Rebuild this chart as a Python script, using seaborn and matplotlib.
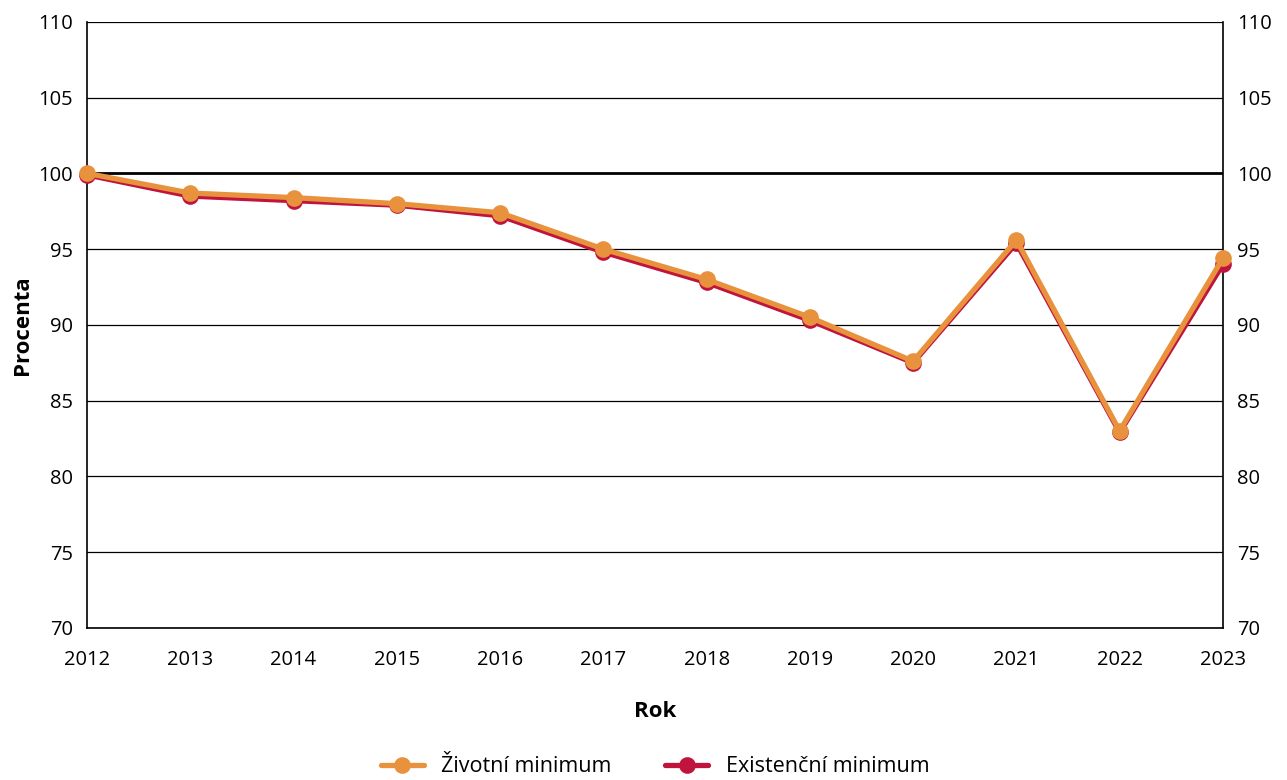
import numpy as np
import pandas as pd
import matplotlib
matplotlib.use("Agg")
import matplotlib.pyplot as plt
import seaborn as sns

years = [2012, 2013, 2014, 2015, 2016, 2017, 2018, 2019, 2020, 2021, 2022, 2023]
zivotni = [100.0, 98.7, 98.4, 98.0, 97.4, 95.0, 93.0, 90.5, 87.6, 95.6, 83.0, 94.4]
existencni = [99.9, 98.5, 98.2, 97.9, 97.2, 94.8, 92.8, 90.3, 87.5, 95.4, 82.9, 94.0]
y_ticks = [70, 75, 80, 85, 90, 95, 100, 105, 110]

sns.set_style("white")
plt.rcParams["font.family"] = ["Open Sans", "DejaVu Sans"]
plt.rcParams["text.color"] = "black"
plt.rcParams["axes.labelcolor"] = "black"
plt.rcParams["xtick.color"] = "black"
plt.rcParams["ytick.color"] = "black"

df_z = pd.DataFrame({"Rok": years, "Procenta": zivotni})
df_e = pd.DataFrame({"Rok": years, "Procenta": existencni})

fig = plt.figure(figsize=(12.87, 7.8), dpi=100)
ax = fig.add_axes([0.0676, 0.195, 0.8826, 0.777])

for t in y_ticks:
    ax.axhline(t, color="black", lw=2.0 if t == 100 else 0.9, zorder=1)

sns.lineplot(data=df_e, x="Rok", y="Procenta", color="#C0143C", lw=3.8,
             marker="o", markersize=12, markeredgewidth=0, ax=ax,
             label="Existenční minimum", clip_on=False, zorder=3)
sns.lineplot(data=df_z, x="Rok", y="Procenta", color="#E8923E", lw=3.8,
             marker="o", markersize=12, markeredgewidth=0, ax=ax,
             label="Životní minimum", clip_on=False, zorder=4)

ax.set_xlim(2012, 2023)
ax.set_ylim(70, 110)
ax.set_xticks(years)
ax.set_yticks(y_ticks)
ax.tick_params(axis="both", length=0, labelsize=14.5)
ax.tick_params(axis="x", pad=16)
ax.tick_params(axis="y", pad=10, right=True, labelright=True)
ax.set_xlabel("Rok", fontsize=16, fontweight="bold", labelpad=22)
ax.set_ylabel("Procenta", fontsize=16, fontweight="bold", labelpad=4)
for s in ["left", "right", "bottom"]:
    ax.spines[s].set_color("black")
    ax.spines[s].set_linewidth(1.2)
ax.spines["top"].set_visible(False)

h, l = ax.get_legend_handles_labels()
ax.legend(h[::-1], l[::-1], loc="upper center", bbox_to_anchor=(0.5, -0.18),
          ncol=2, frameon=False, fontsize=15.5, handlelength=2.0,
          columnspacing=2.5)

fig.savefig("out.png", dpi=100)
